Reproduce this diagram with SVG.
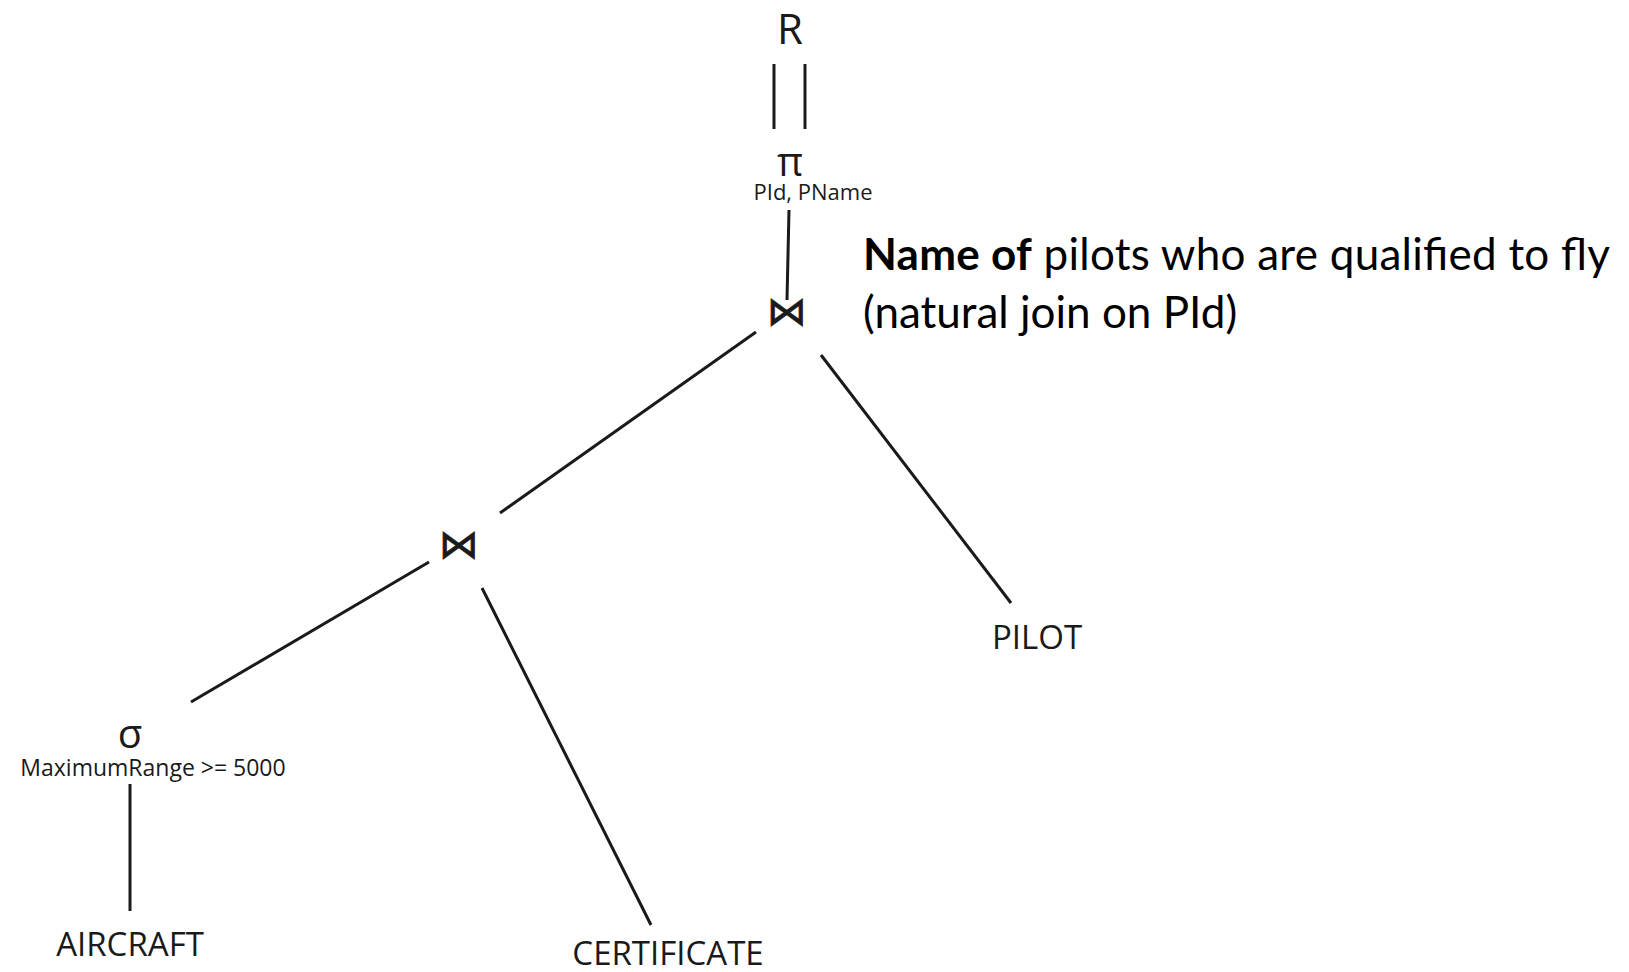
<svg xmlns="http://www.w3.org/2000/svg" width="1629" height="972" viewBox="0 0 1629 972">
<style>
.lbl{font-family:"Open Sans","Noto Sans",sans-serif;fill:#1a1a1a;text-anchor:middle}
.big{font-size:33px}
.sub{font-size:22px}
.op{font-family:"Open Sans","DejaVu Sans",sans-serif;font-size:40px;fill:#1a1a1a;text-anchor:middle}
.join{font-family:"DejaVu Sans",sans-serif;font-size:40px;fill:#1a1a1a;stroke:#1a1a1a;stroke-width:0.8;text-anchor:middle}
.note{font-family:Lato,"Open Sans",sans-serif;font-size:44px;fill:#000}
.edge{stroke:#1a1a1a;stroke-width:3;fill:none;stroke-linecap:butt}
</style>
<rect width="1629" height="972" fill="#fff"/>
<g id="connectors">
<line class="edge" x1="774" y1="64" x2="774" y2="129"/>
<line class="edge" x1="805" y1="64" x2="805" y2="129"/>
<line class="edge" x1="789" y1="210" x2="787" y2="300"/>
<line class="edge" x1="756" y1="332" x2="500" y2="513"/>
<line class="edge" x1="821" y1="355" x2="1011" y2="603"/>
<line class="edge" x1="429" y1="562" x2="191" y2="702"/>
<line class="edge" x1="482" y1="588" x2="651" y2="925"/>
<line class="edge" x1="130" y1="784" x2="130" y2="911"/>
</g>
<g id="R"><text class="lbl" x="790" y="44" style="font-size:42px">R</text></g>
<g id="project"><text class="op" x="790" y="176">π</text><text class="lbl sub" x="813" y="200">PId, PName</text></g>
<g id="join1"><text class="join" x="787" y="325">⋈</text></g>
<g id="join2"><text class="join" x="459" y="558">⋈</text></g>
<g id="select"><text class="op" x="130" y="748">σ</text><text class="lbl" x="153" y="776" style="font-size:23px">MaximumRange &gt;= 5000</text></g>
<g id="pilot"><text class="lbl big" x="1037" y="649">PILOT</text></g>
<g id="aircraft"><text class="lbl big" x="130" y="956">AIRCRAFT</text></g>
<g id="certificate"><text class="lbl big" x="668" y="965">CERTIFICATE</text></g>
<g id="note"><text class="note" x="863" y="270" textLength="747" lengthAdjust="spacing"><tspan font-weight="bold">Name of</tspan> pilots who are qualified to fly</text><text class="note" x="863" y="328">(natural join on PId)</text></g>
</svg>
